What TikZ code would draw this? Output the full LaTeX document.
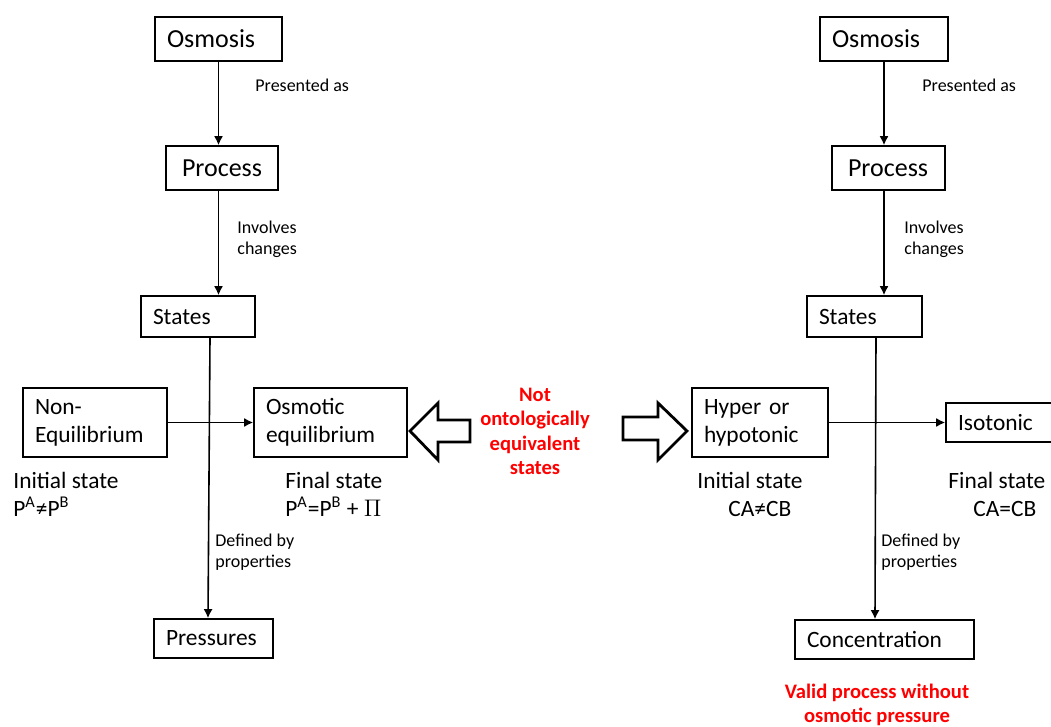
\documentclass[tikz,border=0pt]{standalone}
\usepackage{fontspec}
\setmainfont{Carlito}
\usetikzlibrary{arrows.meta}

\tikzset{
  box/.style={draw, line width=0.8pt, align=left, inner xsep=6pt, inner ysep=0pt,
    font=\fontsize{11.7}{14}\selectfont},
  bigbox/.style={box, font=\fontsize{13}{15}\selectfont},
  lbl/.style={inner sep=0pt, align=left, font=\fontsize{9}{10.5}\selectfont},
  state/.style={inner sep=0pt, align=left, font=\fontsize{11.7}{14}\selectfont},
  note/.style={inner sep=0pt, align=center, text=red,
    font=\fontsize{10.3}{12.2}\selectfont\bfseries},
  link/.style={line width=0.8pt, -{Latex[length=4.5pt,width=4.5pt]}},
  hollow/.style={line width=1.4pt, line join=miter}
}

\begin{document}
\begin{tikzpicture}[x=0.5pt, y=-0.5pt]
  \useasboundingbox (0,0) rectangle (1051,727);
  \clip (0,0) rectangle (1051,727);

  % left chain: osmotic pressure view
  \node[bigbox, text width=51.5pt, minimum height=22pt] (osmL) at (218.5,39) {Osmosis};
  \node[bigbox, text width=40pt, inner xsep=8pt, minimum height=22pt] (procL) at (222,168) {Process};
  \node[box, text width=45pt, minimum height=20.5pt] (statesL) at (198,316.5) {States};
  \node[box, text width=60pt, minimum height=34.5pt] (nonEq) at (95,422.5) {Non-\\Equilibrium};
  \node[box, text width=64.5pt, minimum height=34.5pt] (osmEq) at (330.5,422.5) {Osmotic\\equilibrium};
  \node[box, text width=47.5pt, minimum height=19.5pt] (presL) at (213.5,638.5) {Pressures};

  \node[lbl, anchor=west] (asL) at (255,85) {Presented as};
  \node[lbl, anchor=west] (chgL) at (237,239) {Involves\\changes};
  \node[lbl, anchor=west] (defL) at (215,552) {Defined by\\properties};
  \node[state, anchor=west] (initL) at (13,494) {Initial state\\P\textsuperscript{A}≠P\textsuperscript{B}};
  \node[state, anchor=west] (finL) at (285,494) {Final state\\P\textsuperscript{A}=P\textsuperscript{B} + $\Pi$};

  \draw[link] (osmL.south) -- (osmL.south |- procL.north);
  \draw[link] (osmL.south |- procL.south) -- (osmL.south |- statesL.north);
  \draw[link] ([xshift=6pt]statesL.south) -- ([xshift=-2.75pt]presL.north);
  \draw[link] (nonEq.east) -- (osmEq.west);

  % middle
  \node[note] (notEq) at (535,431.5) {Not\\ontologically\\equivalent\\states};
  \draw[hollow] (470,420) -- (438,420) -- (438,403) -- (410,431)
    -- (438,460) -- (438,442) -- (470,442) -- cycle;
  \draw[hollow] (623,417) -- (658,417) -- (658,403) -- (687,431)
    -- (658,460) -- (658,440) -- (623,440) -- cycle;

  % right chain: concentration view
  \node[bigbox, text width=52pt, minimum height=22pt] (osmR) at (884,39) {Osmosis};
  \node[bigbox, text width=40.5pt, inner xsep=8pt, minimum height=22pt] (procR) at (888.5,168) {Process};
  \node[box, text width=45.5pt, minimum height=20.5pt] (statesR) at (864.5,316.5) {States};
  \node[box, text width=56pt, minimum height=34.5pt] (hyper) at (760,422.5) {Hyper or\\hypotonic};
  \node[box, text width=46pt, minimum height=19.5pt] (iso) at (1004,422.5) {Isotonic};
  \node[box, text width=77.5pt, minimum height=19.5pt] (conc) at (884.5,639.5) {Concentration};

  \node[lbl, anchor=west] (asR) at (922,85) {Presented as};
  \node[lbl, anchor=west] (chgR) at (904,239) {Involves\\changes};
  \node[lbl, anchor=west] (defR) at (881,552) {Defined by\\properties};
  \node[state, anchor=west] (initR) at (697,494) {Initial state\\\hspace*{15.5pt}CA≠CB};
  \node[state, anchor=west] (finR) at (948,494) {Final state\\\hspace*{12.5pt}CA=CB};
  \node[note] (valid) at (877,705) {Valid process without\\osmotic pressure};

  \draw[link] (osmR.south) -- (osmR.south |- procR.north);
  \draw[link] (osmR.south |- procR.south) -- (osmR.south |- statesR.north);
  \draw[link] ([xshift=5.75pt]statesR.south) -- ([xshift=-4.75pt]conc.north);
  \draw[link] (hyper.east) -- (iso.west);
\end{tikzpicture}
\end{document}
